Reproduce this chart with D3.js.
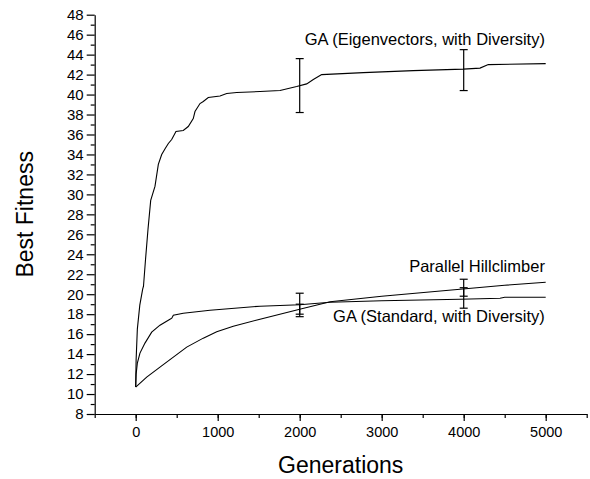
<!DOCTYPE html>
<html>
<head>
<meta charset="utf-8">
<script src="https://cdn.jsdelivr.net/npm/d3@7"></script>
<style>
	body { margin: 0; background: #fff; }
	svg text { font-family: "Liberation Sans", Arial, Helvetica, sans-serif; fill: #000; }
	.axis path, .axis line { stroke: #000; stroke-width: 1.2; }
	.axis text { font-size: 14.5px; }
	.curve { fill: none; stroke: #000; stroke-width: 1.1; }
	.err { stroke: #000; stroke-width: 1.2; }
</style>
</head>
<body>
<svg id="chart" width="590" height="479"></svg>
<script>
// series: generation / best fitness
var eig_gen = [0, 5, 20, 50, 85, 95, 120, 150, 183, 235, 276, 317, 360, 398, 439, 491, 580, 641, 702, 723, 784, 824, 885, 1028, 1110, 1232, 1516, 1760, 1963, 2085, 2166, 2248, 2268, 2776, 3385, 3995, 4199, 4300, 5000];
var eig_val = [10.7, 13.4, 16.5, 18.9, 20.5, 20.8, 23.5, 26.5, 29.4, 30.8, 33.0, 34.0, 34.6, 35.1, 35.5, 36.3, 36.4, 36.8, 37.6, 38.3, 39.1, 39.3, 39.7, 39.85, 40.1, 40.2, 40.3, 40.4, 40.8, 41.07, 41.5, 41.9, 42.0, 42.2, 42.4, 42.55, 42.65, 43.0, 43.1];

var std_gen = [0, 5, 20, 52, 113, 195, 296, 418, 440, 459, 580, 906, 1516, 2000, 2371, 3000, 3955, 4443, 4500, 5000];
var std_val = [10.7, 12.0, 13.1, 14.1, 15.1, 16.2, 16.9, 17.5, 17.6, 17.9, 18.1, 18.4, 18.8, 18.95, 19.2, 19.35, 19.5, 19.6, 19.7, 19.7];

var hill_gen = [0, 134, 296, 459, 622, 824, 988, 1190, 1516, 2000, 2371, 3000, 3955, 4500, 5000];
var hill_val = [10.7, 11.7, 12.7, 13.7, 14.7, 15.6, 16.25, 16.8, 17.5, 18.5, 19.25, 19.8, 20.5, 20.9, 21.2];

// error bars: generation, low, high
var err_gen = [2000, 4000, 2000, 4000, 2000, 4000];
var err_low = [38.2, 40.4, 17.75, 18.6, 18.0, 19.8];
var err_high = [43.6, 44.5, 20.1, 20.65, 19.0, 21.5];

var series_names = ["GA (Eigenvectors, with Diversity)", "Parallel Hillclimber", "GA (Standard, with Diversity)"];

var x_ticks = [0, 1000, 2000, 3000, 4000, 5000];
var y_ticks = d3.range(8, 49, 2);

var svg = d3.select("#chart");

var x = d3.scaleLinear().domain([-500, 5500]).range([94.7, 586.7]);
var y = d3.scaleLinear().domain([8, 48]).range([414, 14.7]);

// minor ticks first
svg.append("g")
	.attr("class", "axis")
	.attr("transform", "translate(0,414)")
	.call(d3.axisBottom(x).tickValues(d3.range(-500, 5501, 500)).tickSize(4).tickFormat(""))
	.select(".domain").remove();
svg.append("g")
	.attr("class", "axis")
	.attr("transform", "translate(94.7,0)")
	.call(d3.axisLeft(y).tickValues(d3.range(9, 48, 2)).tickSize(4).tickFormat(""))
	.select(".domain").remove();

var xa = svg.append("g")
	.attr("class", "axis")
	.attr("transform", "translate(0,414)")
	.call(d3.axisBottom(x).tickValues(x_ticks).tickFormat(d3.format("d")).tickSize(7).tickSizeOuter(0).tickPadding(6));

var ya = svg.append("g")
	.attr("class", "axis")
	.attr("transform", "translate(94.7,0)")
	.call(d3.axisLeft(y).tickValues(y_ticks).tickFormat(d3.format("d")).tickSize(8).tickSizeOuter(0).tickPadding(3));
ya.selectAll("text").style("font-size", "15px");

var line = d3.line()
	.x(function(d){ return x(d[0]); })
	.y(function(d){ return y(d[1]); });

[[eig_gen, eig_val], [std_gen, std_val], [hill_gen, hill_val]].forEach(function(s){
	svg.append("path")
		.attr("class", "curve")
		.attr("d", line(d3.zip(s[0], s[1])));
});

// error bars
var eb = svg.append("g").selectAll("g")
	.data(d3.range(err_gen.length))
	.enter().append("g");
eb.append("line").attr("class", "err")
	.attr("x1", function(i){ return x(err_gen[i]); })
	.attr("x2", function(i){ return x(err_gen[i]); })
	.attr("y1", function(i){ return y(err_low[i]); })
	.attr("y2", function(i){ return y(err_high[i]); });
eb.append("line").attr("class", "err")
	.attr("x1", function(i){ return x(err_gen[i]) - 4; })
	.attr("x2", function(i){ return x(err_gen[i]) + 4; })
	.attr("y1", function(i){ return y(err_low[i]); })
	.attr("y2", function(i){ return y(err_low[i]); });
eb.append("line").attr("class", "err")
	.attr("x1", function(i){ return x(err_gen[i]) - 4; })
	.attr("x2", function(i){ return x(err_gen[i]) + 4; })
	.attr("y1", function(i){ return y(err_high[i]); })
	.attr("y2", function(i){ return y(err_high[i]); });

// curve labels
var label_y = [44.97, 22.2, 17.2];
svg.append("g").selectAll("text")
	.data(series_names)
	.enter().append("text")
	.attr("x", x(4990))
	.attr("y", function(d, i){ return y(label_y[i]); })
	.attr("text-anchor", "end")
	.style("font-size", "16.5px")
	.text(function(d){ return d; });

// axis titles
svg.append("text")
	.attr("x", x(2500))
	.attr("y", 473)
	.attr("text-anchor", "middle")
	.style("font-size", "23px")
	.text("Generations");

svg.append("text")
	.attr("transform", "translate(33," + y(28) + ") rotate(-90)")
	.attr("text-anchor", "middle")
	.style("font-size", "23px")
	.text("Best Fitness");
</script>
</body>
</html>
